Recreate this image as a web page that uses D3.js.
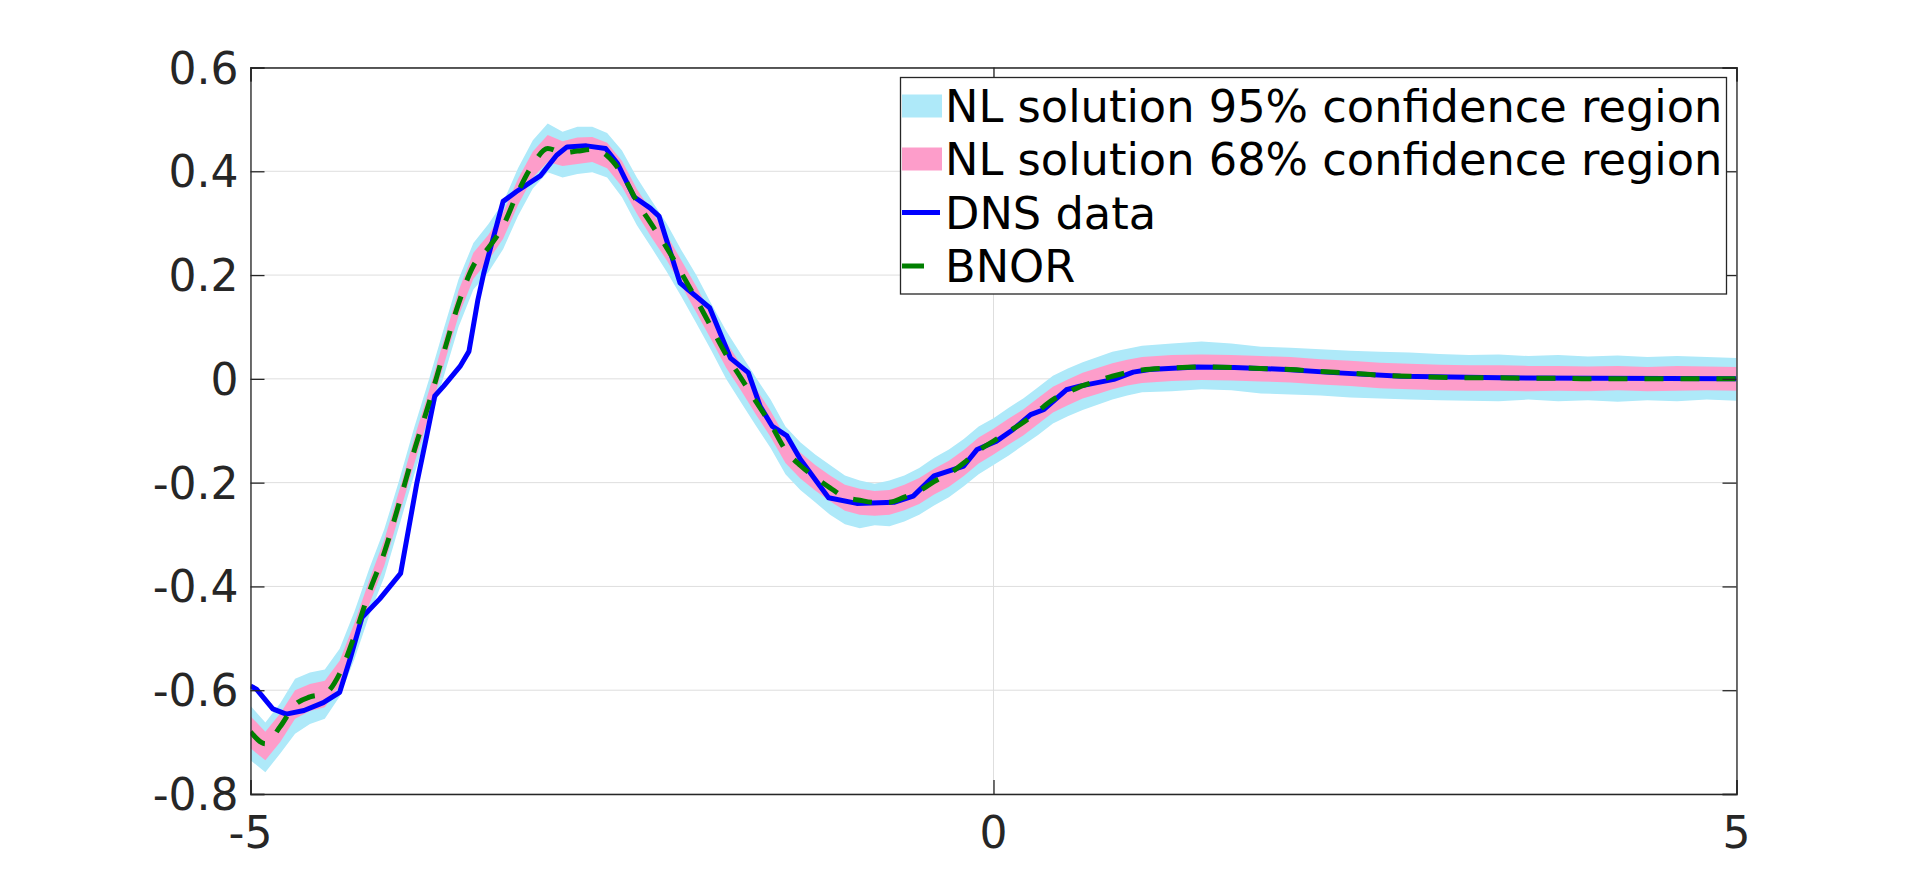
<!DOCTYPE html>
<html>
<head>
<meta charset="utf-8">
<script src="https://cdn.jsdelivr.net/npm/d3@7"></script>
<style>
  html, body { margin: 0; padding: 0; background: #ffffff; }
  svg { display: block; font-family: "DejaVu Sans", sans-serif; }
</style>
</head>
<body>
<svg id="chart" width="1920" height="893"></svg>
<script>
// ---------------- data ----------------
const xTicks = [-5, 0, 5];
const yTicks = [-0.8, -0.6, -0.4, -0.2, 0, 0.2, 0.4, 0.6];
const xTickLabels = ["-5", "0", "5"];
const yTickLabels = ["-0.8", "-0.6", "-0.4", "-0.2", "0", "0.2", "0.4", "0.6"];

const legendLabels = [
  "NL solution 95% confidence region",
  "NL solution 68% confidence region",
  "DNS data",
  "BNOR"
];

// grid of x for BNOR curve and confidence bands
const gridX = [
  -5.0, -4.9, -4.8, -4.7, -4.6, -4.5, -4.4, -4.3, -4.2, -4.1,
  -4.0, -3.9, -3.8, -3.7, -3.6, -3.5, -3.4, -3.3, -3.2, -3.1,
  -3.0, -2.9, -2.8, -2.7, -2.6, -2.5, -2.4, -2.3, -2.2, -2.1,
  -2.0, -1.9, -1.8, -1.7, -1.6, -1.5, -1.4, -1.3, -1.2, -1.1,
  -1.0, -0.9, -0.8, -0.7, -0.6, -0.5, -0.4, -0.3, -0.2, -0.1,
  0.0, 0.1, 0.2, 0.3, 0.4, 0.5, 0.6, 0.7, 0.8, 0.9,
  1.0, 1.2, 1.4, 1.6, 1.8, 2.0, 2.2, 2.4, 2.6, 2.8,
  3.0, 3.2, 3.4, 3.6, 3.8, 4.0, 4.2, 4.4, 4.6, 4.8, 5.0
];
const bnor = [
  -0.680, -0.703, -0.670, -0.628, -0.613, -0.607, -0.568, -0.495, -0.410, -0.335,
  -0.240, -0.140, -0.048, 0.050, 0.145, 0.218, 0.252, 0.295, 0.360, 0.413,
  0.444, 0.436, 0.439, 0.442, 0.430, 0.395, 0.342, 0.297, 0.253, 0.204,
  0.153, 0.100, 0.047, 0.002, -0.043, -0.087, -0.137, -0.167, -0.190, -0.210,
  -0.228, -0.234, -0.238, -0.238, -0.228, -0.216, -0.198, -0.183, -0.162, -0.138,
  -0.120, -0.102, -0.084, -0.062, -0.040, -0.026, -0.013, -0.004, 0.005, 0.012,
  0.017, 0.021, 0.023, 0.022, 0.020, 0.018, 0.014, 0.011, 0.007, 0.005,
  0.003, 0.002, 0.002, 0.001, 0.001, 0.000, 0.000, 0.000, 0.000, 0.000, 0.000
];
const hi95 = [
  -0.630, -0.662, -0.625, -0.578, -0.566, -0.560, -0.520, -0.448, -0.365, -0.290,
  -0.196, -0.095, -0.002, 0.096, 0.192, 0.262, 0.298, 0.340, 0.406, 0.460,
  0.492, 0.476, 0.486, 0.486, 0.474, 0.440, 0.388, 0.343, 0.300, 0.248,
  0.200, 0.145, 0.093, 0.048, 0.003, -0.040, -0.092, -0.122, -0.146, -0.166,
  -0.186, -0.196, -0.202, -0.196, -0.186, -0.172, -0.152, -0.136, -0.116, -0.092,
  -0.076, -0.056, -0.038, -0.016, 0.006, 0.020, 0.032, 0.042, 0.052, 0.058,
  0.064, 0.068, 0.072, 0.068, 0.062, 0.060, 0.057, 0.054, 0.052, 0.051,
  0.048, 0.046, 0.047, 0.044, 0.046, 0.043, 0.045, 0.042, 0.044, 0.042, 0.040
];
const lo95 = [
  -0.735, -0.758, -0.722, -0.684, -0.665, -0.655, -0.612, -0.540, -0.455, -0.382,
  -0.284, -0.186, -0.093, 0.004, 0.100, 0.172, 0.205, 0.250, 0.314, 0.367,
  0.398, 0.388, 0.395, 0.398, 0.388, 0.350, 0.296, 0.252, 0.207, 0.158,
  0.107, 0.055, 0.000, -0.045, -0.090, -0.133, -0.184, -0.214, -0.238, -0.262,
  -0.280, -0.288, -0.282, -0.284, -0.275, -0.262, -0.244, -0.228, -0.207, -0.184,
  -0.166, -0.148, -0.128, -0.108, -0.086, -0.072, -0.060, -0.050, -0.040, -0.032,
  -0.026, -0.024, -0.020, -0.022, -0.028, -0.030, -0.032, -0.036, -0.038, -0.040,
  -0.041, -0.042, -0.043, -0.040, -0.043, -0.041, -0.044, -0.041, -0.043, -0.040, -0.042
];
const hi68 = [
  -0.650, -0.680, -0.645, -0.600, -0.588, -0.582, -0.543, -0.470, -0.387, -0.310,
  -0.216, -0.116, -0.024, 0.074, 0.170, 0.243, 0.277, 0.320, 0.385, 0.438,
  0.470, 0.458, 0.465, 0.466, 0.455, 0.420, 0.366, 0.322, 0.278, 0.228,
  0.178, 0.125, 0.072, 0.027, -0.018, -0.062, -0.112, -0.142, -0.166, -0.186,
  -0.204, -0.212, -0.216, -0.214, -0.204, -0.191, -0.173, -0.158, -0.137, -0.113,
  -0.096, -0.077, -0.059, -0.037, -0.015, -0.001, 0.012, 0.021, 0.030, 0.037,
  0.042, 0.046, 0.047, 0.046, 0.044, 0.042, 0.038, 0.035, 0.031, 0.029,
  0.027, 0.026, 0.026, 0.025, 0.025, 0.024, 0.025, 0.023, 0.025, 0.024, 0.023
];
const lo68 = [
  -0.712, -0.735, -0.700, -0.655, -0.640, -0.633, -0.592, -0.520, -0.434, -0.360,
  -0.263, -0.165, -0.072, 0.026, 0.121, 0.193, 0.228, 0.270, 0.335, 0.388,
  0.418, 0.410, 0.414, 0.418, 0.406, 0.370, 0.318, 0.272, 0.229, 0.180,
  0.128, 0.076, 0.022, -0.022, -0.068, -0.112, -0.162, -0.192, -0.215, -0.236,
  -0.254, -0.262, -0.264, -0.262, -0.253, -0.241, -0.223, -0.208, -0.187, -0.163,
  -0.146, -0.127, -0.109, -0.087, -0.065, -0.051, -0.038, -0.029, -0.020, -0.013,
  -0.008, -0.004, -0.002, -0.003, -0.005, -0.007, -0.011, -0.014, -0.018, -0.020,
  -0.022, -0.023, -0.023, -0.024, -0.023, -0.024, -0.022, -0.024, -0.023, -0.022, -0.023
];

// DNS data polyline
const dnsX = [
  -5.00, -4.96, -4.85, -4.76, -4.64, -4.51, -4.40, -4.33, -4.25, -4.13,
  -3.99, -3.88, -3.81, -3.76, -3.70, -3.59, -3.53, -3.47, -3.43, -3.30,
  -3.21, -3.05, -2.94, -2.87, -2.74, -2.61, -2.53, -2.42, -2.31, -2.25,
  -2.11, -1.91, -1.77, -1.65, -1.57, -1.49, -1.39, -1.30, -1.11, -0.92,
  -0.67, -0.54, -0.40, -0.20, -0.11, 0.02, 0.13, 0.25, 0.34, 0.49,
  0.58, 0.81, 0.94, 1.05, 1.37, 1.62, 1.97, 2.29, 2.74, 3.41, 5.00
];
const dnsY = [
  -0.592, -0.598, -0.636, -0.646, -0.639, -0.624, -0.604, -0.540, -0.460, -0.424,
  -0.375, -0.200, -0.104, -0.033, -0.014, 0.024, 0.053, 0.152, 0.204, 0.342,
  0.361, 0.391, 0.431, 0.447, 0.449, 0.444, 0.415, 0.351, 0.329, 0.313,
  0.185, 0.137, 0.040, 0.012, -0.053, -0.091, -0.110, -0.155, -0.229, -0.240,
  -0.238, -0.226, -0.187, -0.168, -0.136, -0.120, -0.098, -0.069, -0.059, -0.021,
  -0.014, -0.001, 0.013, 0.018, 0.023, 0.022, 0.018, 0.012, 0.005, 0.002, 0.000
];

// ---------------- drawing ----------------
const svg = d3.select("#chart");
const m = { left: 250.5, top: 67.5, right: 1736.5, bottom: 794 };
const W = m.right - m.left, H = m.bottom - m.top;

const x = d3.scaleLinear().domain([-5, 5]).range([m.left, m.right]);
const y = d3.scaleLinear().domain([-0.8, 0.6]).range([m.bottom, m.top]);

const C95 = "#aee9f9", C68 = "#fd9dca", CDNS = "#0000ff", CBNOR = "#007f00";
const AX = "#262626", GRID = "#dedede";

svg.append("defs").append("clipPath").attr("id", "clip")
  .append("rect").attr("x", m.left).attr("y", m.top).attr("width", W).attr("height", H);

// gridlines
const grid = svg.append("g");
grid.selectAll(".gx").data(xTicks).enter().append("line")
  .attr("x1", d => x(d)).attr("x2", d => x(d)).attr("y1", m.top).attr("y2", m.bottom)
  .attr("stroke", GRID).attr("stroke-width", 1);
grid.selectAll(".gy").data(yTicks).enter().append("line")
  .attr("x1", m.left).attr("x2", m.right).attr("y1", d => y(d)).attr("y2", d => y(d))
  .attr("stroke", GRID).attr("stroke-width", 1);

const plot = svg.append("g").attr("clip-path", "url(#clip)");
const idx = d3.range(gridX.length);

const area95 = d3.area().x(i => x(gridX[i])).y0(i => y(lo95[i])).y1(i => y(hi95[i]));
const area68 = d3.area().x(i => x(gridX[i])).y0(i => y(lo68[i])).y1(i => y(hi68[i]));
plot.append("path").attr("d", area95(idx)).attr("fill", C95);
plot.append("path").attr("d", area68(idx)).attr("fill", C68);

const dnsLine = d3.line().x(i => x(dnsX[i])).y(i => y(dnsY[i]));
plot.append("path").attr("d", dnsLine(d3.range(dnsX.length)))
  .attr("fill", "none").attr("stroke", CDNS).attr("stroke-width", 5)
  .attr("stroke-linejoin", "round");

const bnorLine = d3.line().curve(d3.curveMonotoneX).x(i => x(gridX[i])).y(i => y(bnor[i]));
plot.append("path").attr("d", bnorLine(idx))
  .attr("fill", "none").attr("stroke", CBNOR).attr("stroke-width", 5)
  .attr("stroke-dasharray", "19,17");

// axes (MATLAB-like box with inward ticks)
const tickLen = 14;
const axG = svg.append("g");
const axBottom = d3.axisBottom(x).tickValues(xTicks).tickSize(-tickLen).tickFormat("");
const axTop = d3.axisTop(x).tickValues(xTicks).tickSize(-tickLen).tickFormat("");
const axLeft = d3.axisLeft(y).tickValues(yTicks).tickSize(-tickLen).tickFormat("");
const axRight = d3.axisRight(y).tickValues(yTicks).tickSize(-tickLen).tickFormat("");
axG.append("g").attr("transform", `translate(0,${m.bottom})`).call(axBottom);
axG.append("g").attr("transform", `translate(0,${m.top})`).call(axTop);
axG.append("g").attr("transform", `translate(${m.left},0)`).call(axLeft);
axG.append("g").attr("transform", `translate(${m.right},0)`).call(axRight);
axG.selectAll(".domain").attr("stroke", AX).attr("stroke-width", 1.3);
axG.selectAll(".tick line").attr("stroke", AX).attr("stroke-width", 1.3);

// tick labels
svg.append("g").selectAll("text").data(yTicks).enter().append("text")
  .attr("x", m.left - 12).attr("y", d => y(d) + 16)
  .attr("text-anchor", "end").attr("font-size", 44).attr("fill", AX)
  .text((d, i) => yTickLabels[i]);
svg.append("g").selectAll("text").data(xTicks).enter().append("text")
  .attr("x", d => x(d)).attr("y", 848)
  .attr("text-anchor", "middle").attr("font-size", 44).attr("fill", AX)
  .text((d, i) => xTickLabels[i]);

// legend
const lg = svg.append("g");
lg.append("rect").attr("x", 900.5).attr("y", 77.5).attr("width", 826).attr("height", 216.5)
  .attr("fill", "#ffffff").attr("stroke", AX).attr("stroke-width", 1.3);
const rowY = [106, 159, 212.5, 266];
lg.append("rect").attr("x", 902).attr("y", rowY[0] - 11.5).attr("width", 40).attr("height", 23).attr("fill", C95);
lg.append("rect").attr("x", 902).attr("y", rowY[1] - 11.5).attr("width", 40).attr("height", 23).attr("fill", C68);
lg.append("line").attr("x1", 902).attr("x2", 940).attr("y1", rowY[2]).attr("y2", rowY[2])
  .attr("stroke", CDNS).attr("stroke-width", 5);
lg.append("line").attr("x1", 902).attr("x2", 924).attr("y1", rowY[3]).attr("y2", rowY[3])
  .attr("stroke", CBNOR).attr("stroke-width", 5);
lg.selectAll(".lt").data(legendLabels).enter().append("text")
  .attr("x", 945).attr("y", (d, i) => rowY[i] + 16)
  .attr("font-size", 44.7).attr("fill", "#000000")
  .text(d => d);
</script>
</body>
</html>
